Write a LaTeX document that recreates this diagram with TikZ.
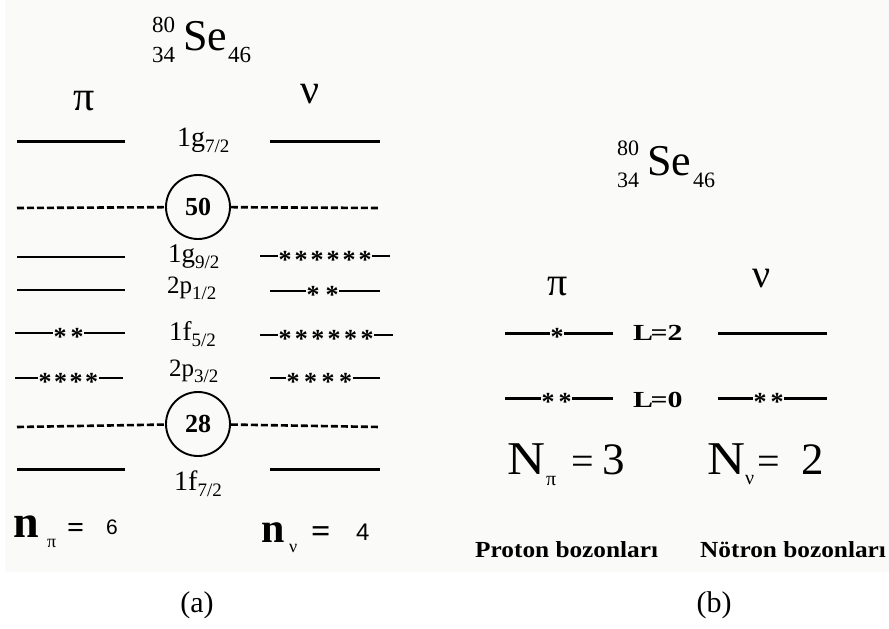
\documentclass[tikz,border=0pt]{standalone}
\usepackage{fontspec}
\setmainfont{Liberation Serif}
\newfontfamily\sansfont{Liberation Sans}
\usepackage{graphicx}
\newcommand{\fsz}[1]{\fontsize{#1}{#1}\selectfont}
\newcommand{\lsub}[1]{\raisebox{-6pt}{\fsz{19}#1}}
\definecolor{bgc}{RGB}{250,250,248}
\tikzset{
 lvl/.style={line width=2pt},
 lvlthick/.style={line width=3pt},
 shell/.style={line width=2.6pt, dash pattern=on 7pt off 3pt},
 magic/.style={circle, draw, line width=1.9pt, minimum size=64pt, inner sep=0pt, font=\bfseries\fsz{26}},
 astk/.style={anchor=base, inner sep=0pt, font=\bfseries\fsz{26}},
 lbl/.style={anchor=base west, inner sep=0pt},
}
\newcommand{\slev}[7]{%
 \pgfmathsetmacro{\lastc}{#4+(#6-1)*#5}
 \draw[line width=#7] (#1,#3) -- ({#4-7},#3);
 \draw[line width=#7] ({\lastc+7},#3) -- (#2,#3);
 \foreach \k in {1,...,#6}{\node[astk] at ({#4+(\k-1)*#5},{#3+12.6}) {*};}
}
\begin{document}
\begin{tikzpicture}[x=1pt,y=-1pt]
\useasboundingbox (0,0) rectangle (889,629);
\fill[bgc] (5,0) rectangle (889,572);
% ---------- panel (a)
\node[lbl,font=\fsz{23}] (a80) at (152,32) {80};
\node[lbl,font=\fsz{23}] (a34) at (152,62) {34};
\node[lbl,font=\fsz{44}] (ase) at (183,50) {Se};
\node[lbl,font=\fsz{23}] (a46) at (228,62) {46};
\node[anchor=base,font=\fsz{42}] (api) at (84,110) {π};
\node[anchor=base,font=\fsz{42}] (anu) at (310,103) {ν};
% 1g7/2
\draw[lvlthick] (17,141) -- (125,141);
\draw[lvlthick] (270,141) -- (380,141);
\node[lbl,font=\fsz{28}] (l1g7) at (177,146) {1g\lsub{7/2}};
% 50
\node[magic] (c50) at (198,207) {50};
\coordinate (d50l) at (17,208);
\coordinate (d50r) at (380,208);
\draw[shell] (d50l) -- (c50);
\draw[shell] (c50) -- (d50r);
% 1g9/2
\draw[lvl] (17,257) -- (125,257);
\slev{260}{390}{256}{285}{16}{6}{2pt}
\node[lbl,font=\fsz{27}] (l1g9) at (168,262) {1g\lsub{9/2}};
% 2p1/2
\draw[lvl] (17,290) -- (125,290);
\slev{270}{380}{291}{313}{19}{2}{2pt}
\node[lbl,font=\fsz{25}] (l2p1) at (167,293) {2p\lsub{1/2}};
% 1f5/2
\slev{15}{125}{333}{60}{17}{2}{2pt}
\slev{260}{393}{335}{285}{16.4}{6}{2pt}
\node[lbl,font=\fsz{27}] (l1f5) at (169,340) {1f\lsub{5/2}};
% 2p3/2
\slev{15}{123}{378}{45}{15.5}{4}{2.5pt}
\slev{270}{380}{378}{293}{17.5}{4}{2.5pt}
\node[lbl,font=\fsz{25}] (l2p3) at (169,376) {2p\lsub{3/2}};
% 28
\node[magic] (c28) at (198,424) {28};
\coordinate (d28l) at (17,427);
\coordinate (d28r) at (380,427);
\draw[shell] (d28l) -- (c28);
\draw[shell] (c28) -- (d28r);
% 1f7/2
\draw[lvlthick] (17,469) -- (125,469);
\draw[lvlthick] (270,469) -- (380,469);
\node[lbl,font=\fsz{28}] (l1f7) at (174,490) {1f\lsub{7/2}};
% n_pi = 6
\node[lbl,font=\bfseries\fsz{46}] (npin) at (13,537) {n};
\node[lbl,font=\fsz{18}] (npis) at (47,547) {π};
\node[lbl,font=\bfseries\fsz{30}] (npie) at (67,537) {=};
\node[lbl,font=\sansfont\fsz{21}] (npiv) at (106,534) {6};
% n_nu = 4
\node[lbl,font=\bfseries\fsz{42}] (nnun) at (261,542) {n};
\node[lbl,font=\fsz{18}] (nnus) at (289,552) {ν};
\node[lbl,font=\bfseries\fsz{34}] (nnue) at (311,542) {=};
\node[lbl,font=\sansfont\fsz{24}] (nnuv) at (356,540) {4};
\node[anchor=base,font=\fsz{30}] (capa) at (197,612) {(a)};
% ---------- panel (b)
\node[lbl,font=\fsz{22}] (b80) at (617,155) {80};
\node[lbl,font=\fsz{22}] (b34) at (617,187) {34};
\node[lbl,font=\fsz{44}] (bse) at (647,175) {Se};
\node[lbl,font=\fsz{22}] (b46) at (693,187) {46};
\node[anchor=base,font=\fsz{40}] (bpi) at (558,295) {π};
\node[anchor=base,font=\fsz{40}] (bnu) at (762,287) {ν};
\slev{505}{613}{333}{557}{0}{1}{3pt}
\draw[line width=3pt] (718,333) -- (827,333);
\node[lbl] (L2) at (633,340) {\scalebox{1.3}[1]{\bfseries\fsz{23}L\kern-2pt=2}};
\slev{505}{613}{398}{548}{17}{2}{3pt}
\slev{718}{827}{398}{760}{17}{2}{3pt}
\node[lbl] (L0) at (633,407) {\scalebox{1.3}[1]{\bfseries\fsz{23}L\kern-2pt=0}};
% N_pi = 3
\node[lbl,font=\fsz{47}] (Npin) at (507,474) {\scalebox{1.12}[1]{N}};
\node[lbl,font=\fsz{20}] (Npis) at (546,485) {π};
\node[lbl,font=\fsz{40}] (Npie) at (571,474) {=};
\node[lbl,font=\fsz{45}] (Npiv) at (602,474) {3};
% N_nu = 2
\node[lbl,font=\fsz{47}] (Nnun) at (707,474) {\scalebox{1.12}[1]{N}};
\node[lbl,font=\fsz{20}] (Nnus) at (745,484) {ν};
\node[lbl,font=\fsz{40}] (Nnue) at (757,474) {=};
\node[lbl,font=\fsz{45}] (Nnuv) at (801,474) {2};
\node[lbl] (pb) at (475,557) {\scalebox{1.1}[1]{\bfseries\fsz{23}Proton bozonları}};
\node[lbl] (nb) at (700,557) {\scalebox{1.1}[1]{\bfseries\fsz{23}Nötron bozonları}};
\node[anchor=base,font=\fsz{30}] (capb) at (714,612) {(b)};
\end{tikzpicture}
\end{document}
